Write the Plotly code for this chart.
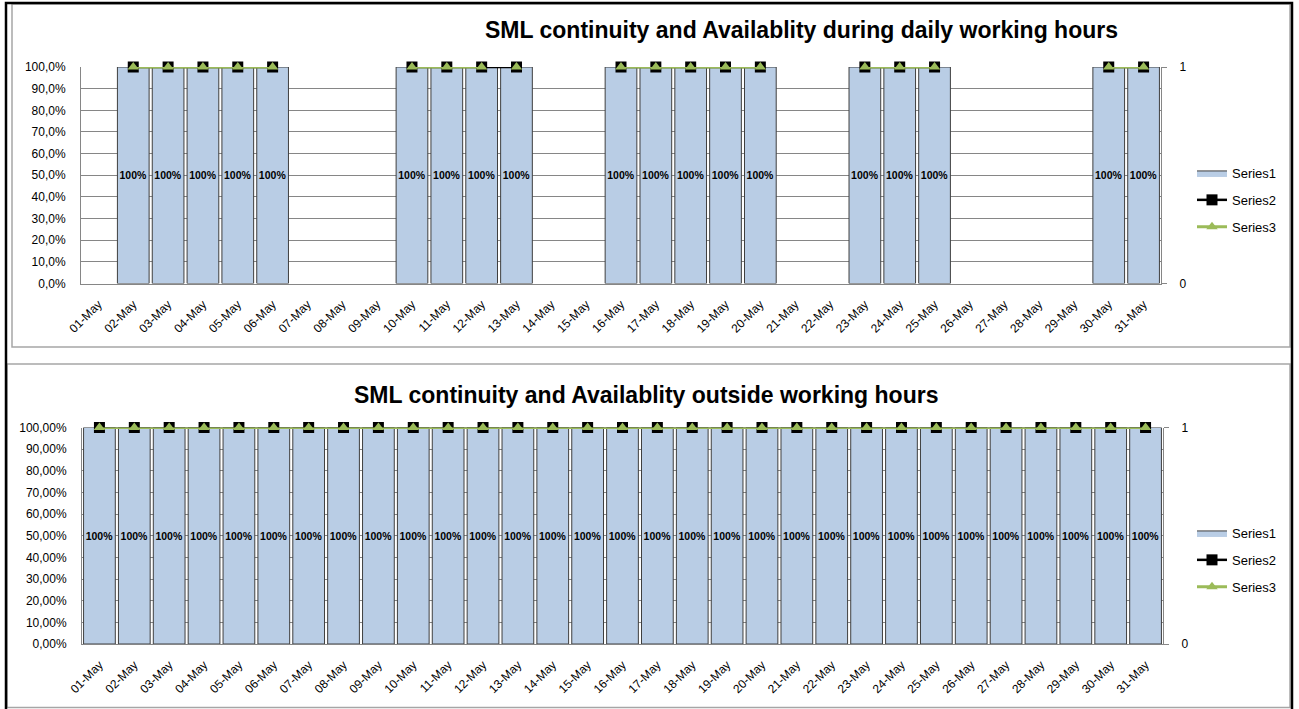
import plotly.graph_objects as go

# ---------------- data ----------------
days = ["01-May", "02-May", "03-May", "04-May", "05-May", "06-May", "07-May", "08-May",
        "09-May", "10-May", "11-May", "12-May", "13-May", "14-May", "15-May", "16-May",
        "17-May", "18-May", "19-May", "20-May", "21-May", "22-May", "23-May", "24-May",
        "25-May", "26-May", "27-May", "28-May", "29-May", "30-May", "31-May"]

N = None
# daily working hours
top_series1 = [N, 1, 1, 1, 1, 1, N, N, N, 1, 1, 1, 1, N, N, 1,
               1, 1, 1, 1, N, N, 1, 1, 1, N, N, N, N, 1, 1]
top_series2 = [N, 1, 1, 1, 1, 1, N, N, N, 1, 1, 1, 1, N, N, 1,
               1, 1, 1, 1, N, N, 1, 1, 1, N, N, N, N, 1, 1]
top_series3_line = [N, 1, 1, 1, 1, 1, N, N, N, 1, 1, 1, N, N, N, 1,
                    1, 1, 1, 1, N, N, 1, 1, 1, N, N, N, N, 1, 1]
top_series3_extra = [N, N, N, N, N, N, N, N, N, N, N, N, 1, N, N, N,
                     N, N, N, N, N, N, N, N, N, N, N, N, N, N, N]
# outside working hours
bot_series1 = [1] * 31
bot_series2 = [1] * 31
bot_series3 = [1] * 31

pct_ticks = [0, 0.1, 0.2, 0.3, 0.4, 0.5, 0.6, 0.7, 0.8, 0.9, 1.0]
top_ticktext = ["0,0%", "10,0%", "20,0%", "30,0%", "40,0%", "50,0%",
                "60,0%", "70,0%", "80,0%", "90,0%", "100,0%"]
bot_ticktext = ["0,00%", "10,00%", "20,00%", "30,00%", "40,00%", "50,00%",
                "60,00%", "70,00%", "80,00%", "90,00%", "100,00%"]

title_top = "SML continuity and Availablity during daily working hours"
title_bot = "SML continuity and Availablity outside working hours"

# ---------------- style ----------------
W, H = 1299, 709
FONT = "Liberation Sans"
BAR_FILL = "#B9CDE5"
BAR_LINE = "#3F3F3F"
GREEN = "#9BBB59"
GRID = "#868686"


def px_x(x):
    return x / W


def px_y(y):
    return 1 - y / H


fig = go.Figure()


def add_panel(xa, ya, ya2, s1, s2, s3, legend, extra=None):
    xref = "x" if xa == "xaxis" else "x" + xa[5:]
    yref = "y" if ya == "yaxis" else "y" + ya[5:]
    y2ref = "y" + ya2[5:]
    fig.add_trace(go.Bar(
        x=days, y=s1, name="Series1", xaxis=xref, yaxis=yref,
        marker=dict(color=BAR_FILL, line=dict(color=BAR_LINE, width=1)),
        text=["100%" if v is not None else "" for v in s1],
        textposition="inside", insidetextanchor="middle", constraintext="none",
        textfont=dict(family=FONT, size=10.5, color="black", weight="bold"),
        textangle=0, showlegend=False, legend=legend,
    ))
    # legend swatch for Series1 (box shaped)
    fig.add_trace(go.Scatter(
        x=[None], y=[None], name="Series1", xaxis=xref, yaxis=yref, mode="lines",
        fill="toself", fillcolor=BAR_FILL, line=dict(color=BAR_LINE, width=1),
        legend=legend, legendgroup="s1" + legend,
    ))
    fig.add_trace(go.Scatter(
        x=days, y=s2, name="Series2", xaxis=xref, yaxis=y2ref, mode="lines+markers",
        line=dict(color="black", width=2.5),
        marker=dict(symbol="square", size=11, color="black"),
        cliponaxis=False, legend=legend, legendgroup="s2" + legend,
    ))
    fig.add_trace(go.Scatter(
        x=days, y=s3, name="Series3", xaxis=xref, yaxis=y2ref, mode="lines+markers",
        line=dict(color=GREEN, width=3),
        marker=dict(symbol="triangle-up", size=10, color=GREEN),
        cliponaxis=False, legend=legend, legendgroup="s3" + legend,
    ))
    if extra is not None:
        fig.add_trace(go.Scatter(
            x=days, y=extra, name="Series3", xaxis=xref, yaxis=y2ref, mode="markers",
            marker=dict(symbol="triangle-up", size=10, color=GREEN),
            cliponaxis=False, showlegend=False, legendgroup="s3" + legend,
        ))


add_panel("xaxis", "yaxis", "yaxis2", top_series1, top_series2, top_series3_line,
          "legend", extra=top_series3_extra)
add_panel("xaxis2", "yaxis3", "yaxis4", bot_series1, bot_series2, bot_series3, "legend2")

tickfont = dict(family=FONT, size=12, color="#000000")
xfont = dict(family=FONT, size=12, color="#000000")


def xaxis_cfg(dom, anchor):
    return dict(domain=dom, anchor=anchor, type="category", tickangle=-45,
                tickfont=xfont, showgrid=False, showline=True, linecolor=GRID,
                linewidth=1, ticks="", range=[-0.5, 30.5], fixedrange=True,
                ticklabelstandoff=8, automargin=False)


def yaxis_cfg(dom, anchor, ticktext):
    return dict(domain=dom, anchor=anchor, range=[0, 1], tickvals=pct_ticks,
                ticktext=ticktext, tickfont=tickfont, showgrid=True,
                gridcolor=GRID, gridwidth=1, showline=True, linecolor=GRID,
                ticks="", zeroline=False, fixedrange=True, ticklabelstandoff=12,
                automargin=False)


def yaxis2_cfg(overlay, anchor):
    return dict(overlaying=overlay, anchor=anchor, side="right", range=[0, 1],
                tickvals=[0, 1], ticktext=["0", "1"], tickfont=tickfont,
                showgrid=False, showline=True, linecolor=GRID, ticks="outside",
                ticklen=5, tickcolor=GRID, zeroline=False, fixedrange=True,
                ticklabelstandoff=10, automargin=False)


top_xdom = [px_x(81), px_x(1161)]
top_ydom = [px_y(283.5), px_y(67)]
bot_xdom = [px_x(82), px_x(1163)]
bot_ydom = [px_y(644), px_y(427.5)]

fig.update_layout(
    width=W, height=H,
    margin=dict(l=0, r=0, t=0, b=0, pad=0, autoexpand=False),
    paper_bgcolor="white", plot_bgcolor="white",
    bargap=0.09,
    font=dict(family=FONT, size=12, color="black"),
    xaxis=xaxis_cfg(top_xdom, "y"),
    yaxis=yaxis_cfg(top_ydom, "x", top_ticktext),
    yaxis2=yaxis2_cfg("y", "x"),
    xaxis2=xaxis_cfg(bot_xdom, "y3"),
    yaxis3=yaxis_cfg(bot_ydom, "x2", bot_ticktext),
    yaxis4=yaxis2_cfg("y3", "x2"),
    legend=dict(x=px_x(1192), y=px_y(158), xanchor="left", yanchor="top",
                font=dict(family=FONT, size=13), tracegroupgap=7,
                traceorder="grouped", bgcolor="rgba(0,0,0,0)"),
    legend2=dict(x=px_x(1192), y=px_y(518), xanchor="left", yanchor="top",
                 font=dict(family=FONT, size=13), tracegroupgap=7,
                 traceorder="grouped", bgcolor="rgba(0,0,0,0)"),
    showlegend=True,
)

fig.add_annotation(text="<b>%s</b>" % title_top, xref="paper", yref="paper",
                   x=px_x(801), y=px_y(30), xanchor="center", yanchor="middle",
                   showarrow=False, font=dict(family=FONT, size=23, color="black"))
fig.add_annotation(text="<b>%s</b>" % title_bot, xref="paper", yref="paper",
                   x=px_x(646), y=px_y(395), xanchor="center", yanchor="middle",
                   showarrow=False, font=dict(family=FONT, size=23, color="black"))

# chart frames
fig.add_shape(type="rect", xref="paper", yref="paper",
              x0=px_x(12), y0=px_y(347), x1=px_x(1290), y1=px_y(4),
              line=dict(color="#A6A6A6", width=1.5))
fig.add_shape(type="rect", xref="paper", yref="paper",
              x0=px_x(7), y0=px_y(707.5), x1=px_x(1290), y1=px_y(364),
              line=dict(color="#A6A6A6", width=1.5))
fig.add_shape(type="rect", xref="paper", yref="paper",
              x0=px_x(6), y0=px_y(712), x1=px_x(1292), y1=px_y(3),
              line=dict(color="black", width=2.5))

fig.write_html("out.html",
               config={"displayModeBar": False},
               post_script="document.body.style.margin='0';"
                           "document.body.style.overflow='hidden';")
